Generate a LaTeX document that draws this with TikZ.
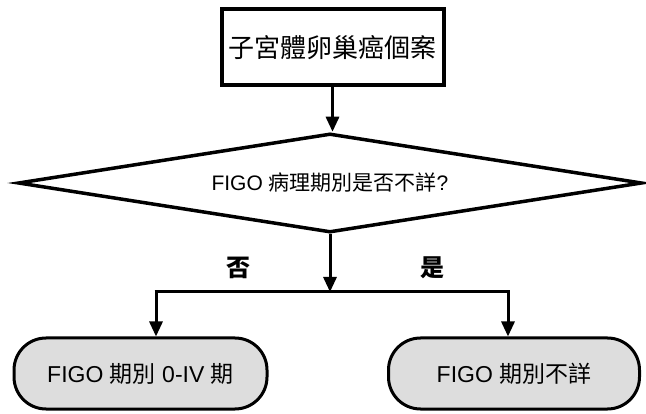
\documentclass[tikz,border=0pt]{standalone}
\usepackage{fontspec}
\setmainfont{Liberation Sans}
\newfontfamily\cjk{Noto Sans CJK TC}
\usetikzlibrary{shapes.geometric,arrows.meta}
\definecolor{termgray}{HTML}{DDDDDD}
\tikzset{
  arr/.style={line width=3pt,-{Triangle[width=13pt,length=15pt]}},
  ln/.style={line width=3pt},
  startbox/.style={draw,line width=4pt,minimum width=222pt,minimum height=76pt,inner sep=0pt,font=\fontsize{26}{30}\selectfont\cjk},
  decide/.style={draw,diamond,aspect=6.3,line width=3.5pt,minimum width=624pt,minimum height=99pt,inner sep=0pt,font=\fontsize{21}{25}\selectfont},
  term/.style={draw,line width=3pt,fill=termgray,rounded corners=32pt,minimum height=71pt,inner sep=0pt,font=\fontsize{23}{27}\selectfont},
  lab/.style={font=\fontsize{24}{28}\selectfont\cjk\bfseries}
}
\begin{document}
\begin{tikzpicture}[x=1pt,y=-1pt]
\useasboundingbox (0,0) rectangle (646,414);
\node[startbox] (top) at (332.5,47.5) {子宮體卵巢癌個案};
\node[decide] (d) at (330,183) {FIGO {\cjk 病理期別是否不詳}?};
\node[term,minimum width=253pt] (L) at (140.5,373.5) {FIGO {\cjk 期別} 0-IV {\cjk 期}};
\node[term,minimum width=251pt] (R) at (514,373.5) {FIGO {\cjk 期別不詳}};
\coordinate (j) at (333,292);
\coordinate (jl) at (156,292);
\coordinate (jr) at (508,292);
\node[lab] (no) at (238,268) {否};
\node[lab] (yes) at (432,268) {是};
\draw[arr] (top.south) -- (top.south |- d.north);
\draw[arr] (d.south) -- (d.south |- j);
\draw[ln] ([xshift=-1.5pt]jl) -- ([xshift=1.5pt]jr);
\draw[arr] ([yshift=-1.5pt]jl) -- (jl |- L.north);
\draw[arr] ([yshift=-1.5pt]jr) -- (jr |- R.north);
\end{tikzpicture}
\end{document}
